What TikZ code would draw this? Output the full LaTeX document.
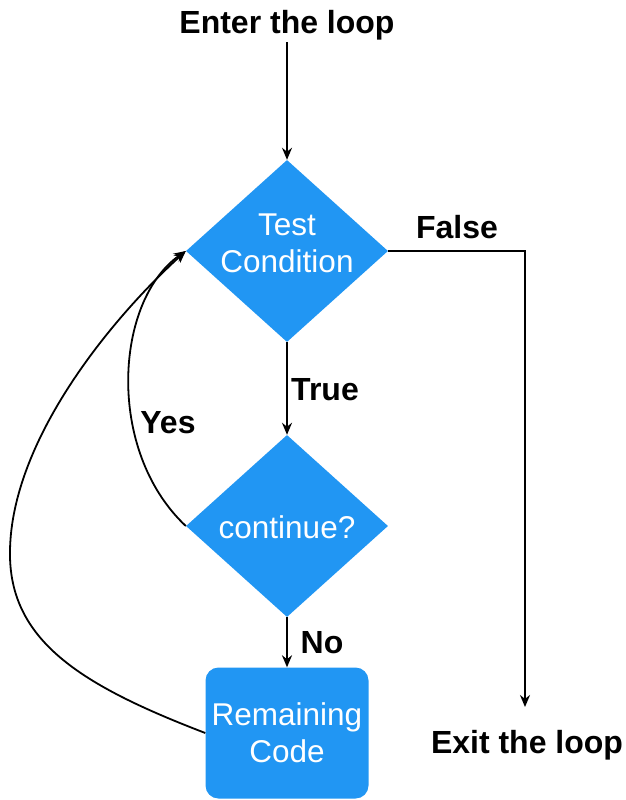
\documentclass[tikz,border=0pt]{standalone}
\usepackage{fontspec}
\setmainfont{Liberation Sans}
\usetikzlibrary{shapes.geometric,arrows.meta}
\definecolor{flowblue}{RGB}{33,150,243}
\begin{document}
\begin{tikzpicture}[x=1pt,y=-1pt,
  lbl/.style={font=\fontsize{32}{38}\selectfont\bfseries,inner sep=2pt},
  wtext/.style={font=\fontsize{31.5}{37}\selectfont,text=white,align=center,inner sep=0pt},
  dia/.style={diamond,fill=flowblue,minimum width=202pt,minimum height=182pt,inner sep=0pt},
  box/.style={rectangle,rounded corners=13pt,fill=flowblue,minimum width=163pt,minimum height=131pt,inner sep=0pt},
  conn/.style={line width=1.8pt},
  arr/.style={conn,-{Stealth[length=12pt,width=10pt]}}]
\useasboundingbox (0,0) rectangle (626,800);
\node[lbl] (enter) at (287,25) {Enter the loop};
\node[dia] (c1) at (287,251) {};
\node[wtext] (c1t) at (287,243) {Test\\Condition};
\node[dia] (c2) at (287,526) {};
\node[wtext] (c2t) at (287,527) {continue?};
\node[box] (rc) at (287,733) {};
\node[wtext] (rct) at (287,733) {Remaining\\Code};
\node[lbl] (exit) at (527,745) {Exit the loop};
\coordinate (xend) at (525,707);
\coordinate (loopleft) at (10,550);
\node[lbl] (lfalse) at (457,227) {False};
\node[lbl] (ltrue) at (325,390) {True};
\node[lbl] (lyes) at (168,423) {Yes};
\node[lbl] (lno) at (322,643) {No};
\draw[arr] (enter.south) -- (c1.north);
\draw[arr] (c1.east) -| (xend);
\draw[arr] (c1.south) -- (c2.north);
\draw[arr] (c2.south) -- (rc.north);
\draw[arr] (c2.west) .. controls (105,450) and (115,300) .. (c1.west);
\draw[arr] (rc.west) .. controls (80,685) and (8,640) .. (loopleft) .. controls (12,440) and (110,320) .. (c1.west);
\end{tikzpicture}
\end{document}
